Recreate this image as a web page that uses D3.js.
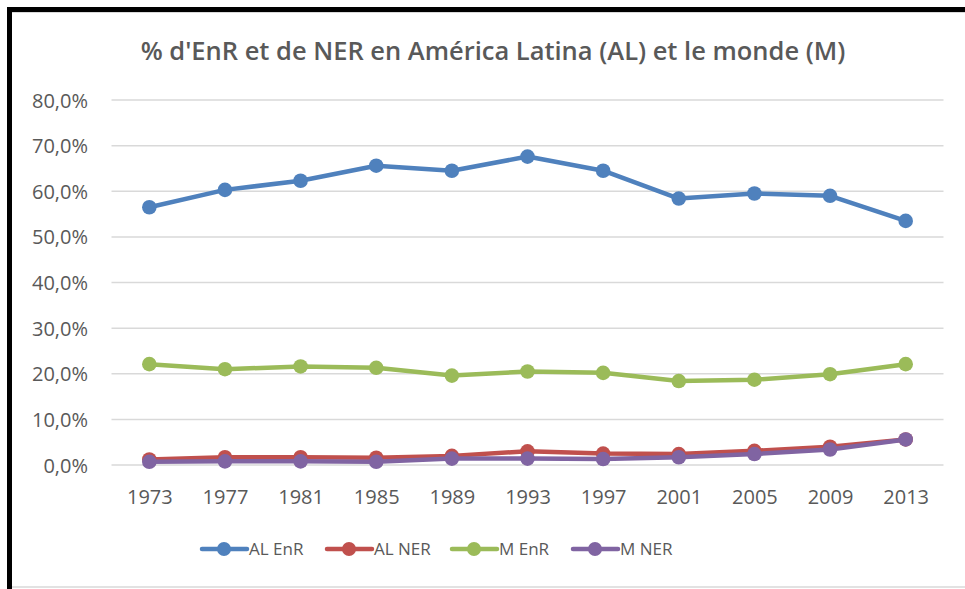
<!DOCTYPE html>
<html>
<head>
<meta charset="utf-8">
<script src="https://cdn.jsdelivr.net/npm/d3@7/dist/d3.min.js"></script>
<style>
  html, body { margin: 0; padding: 0; background: #fff; }
  svg { display: block; }
  text { font-family: "Open Sans", "DejaVu Sans", sans-serif; fill: #595959; }
</style>
</head>
<body>
<svg id="chart" width="965" height="589"></svg>
<script>
// Survey years
const years = ["1973", "1977", "1981", "1985", "1989", "1993", "1997", "2001", "2005", "2009", "2013"];

// Shares (fraction of total) per series
const alEnR = [0.565, 0.603, 0.623, 0.656, 0.645, 0.676, 0.645, 0.584, 0.595, 0.590, 0.535];
const alNER = [0.012, 0.017, 0.017, 0.016, 0.020, 0.030, 0.025, 0.024, 0.031, 0.040, 0.056];
const mEnR  = [0.221, 0.210, 0.216, 0.213, 0.196, 0.205, 0.202, 0.184, 0.187, 0.199, 0.221];
const mNER  = [0.007, 0.008, 0.008, 0.007, 0.014, 0.014, 0.013, 0.017, 0.024, 0.034, 0.056];

const seriesNames = ["AL EnR", "AL NER", "M EnR", "M NER"];
const seriesColors = ["#4f81bd", "#c0504d", "#9bbb59", "#8064a2"];
const yTicks = [0, 0.1, 0.2, 0.3, 0.4, 0.5, 0.6, 0.7, 0.8];
const titleText = "% d'EnR et de NER en América Latina (AL) et le monde (M)";

const series = [alEnR, alNER, mEnR, mNER].map((vals, i) => ({
  name: seriesNames[i], color: seriesColors[i], values: vals
}));

const svg = d3.select("#chart");
const W = 965, H = 589;

// Frame: heavy black edge on top and left, light rule inside / at bottom
svg.append("rect").attr("x", 0).attr("y", 0).attr("width", W).attr("height", H).attr("fill", "#fff");
svg.append("rect").attr("x", 7).attr("y", 7).attr("width", W - 7).attr("height", 5).attr("fill", "#000");
svg.append("rect").attr("x", 7).attr("y", 7).attr("width", 5).attr("height", H - 7).attr("fill", "#000");
svg.append("line").attr("x1", 12).attr("x2", W).attr("y1", 12.5).attr("y2", 12.5)
  .attr("stroke", "#d9d9d9").attr("stroke-width", 1);
svg.append("line").attr("x1", 12).attr("x2", W).attr("y1", 587).attr("y2", 587)
  .attr("stroke", "#d9d9d9").attr("stroke-width", 1.5);

// Scales
const x = d3.scalePoint().domain(years).range([111.5, 943.5]).padding(0.5);
const y = d3.scaleLinear().domain([0, 0.8]).range([465, 100]);

const locale = d3.formatLocale({ decimal: ",", thousands: ".", grouping: [3], currency: ["", "€"] });
const pct = locale.format(".1%");

// Horizontal gridlines
svg.append("g")
  .selectAll("line")
  .data(yTicks)
  .join("line")
  .attr("x1", 111.5).attr("x2", 943.5)
  .attr("y1", d => y(d)).attr("y2", d => y(d))
  .attr("stroke", "#d9d9d9").attr("stroke-width", 1.5);

// Y axis labels
const yAxis = d3.axisLeft(y).tickValues(yTicks).tickFormat(pct).tickSize(0).tickPadding(0);
const gy = svg.append("g").attr("transform", "translate(88,0)").call(yAxis);
gy.select(".domain").remove();
gy.selectAll("text").attr("font-size", 20).attr("font-family", null).attr("fill", "#595959").attr("dy", "0.35em");

// X axis labels
const xAxis = d3.axisBottom(x).tickSize(0).tickPadding(0);
const gx = svg.append("g").attr("transform", "translate(0,487)").call(xAxis);
gx.select(".domain").remove();
gx.selectAll("text").attr("font-size", 20).attr("font-family", null).attr("fill", "#595959").attr("dy", "0.35em").attr("y", 10);

// Series lines and markers (drawn back to front so purple sits on top)
const line = d3.line().x((d, i) => x(years[i])).y(d => y(d));
const gs = svg.append("g");
series.forEach(s => {
  const g = gs.append("g");
  g.append("path").datum(s.values)
    .attr("d", line).attr("fill", "none")
    .attr("stroke", s.color).attr("stroke-width", 4.5)
    .attr("stroke-linejoin", "round").attr("stroke-linecap", "round");
  g.selectAll("circle").data(s.values).join("circle")
    .attr("cx", (d, i) => x(years[i])).attr("cy", d => y(d))
    .attr("r", 7.3).attr("fill", s.color);
});

// Title, fitted to its box width
const title = svg.append("text")
  .attr("x", 493).attr("y", 60).attr("text-anchor", "middle")
  .attr("font-weight", 600).attr("font-size", 24).text(titleText);
const tw = title.node().getComputedTextLength();
title.attr("font-size", 24 * 705 / tw);

// Legend
const legendX = [202, 327, 452, 573];
const legendY = 549;
const lg = svg.append("g");
series.forEach((s, i) => {
  const g = lg.append("g").attr("transform", `translate(${legendX[i]},${legendY})`);
  g.append("line").attr("x1", 0).attr("x2", 45).attr("y1", 0).attr("y2", 0)
    .attr("stroke", s.color).attr("stroke-width", 4.5).attr("stroke-linecap", "round");
  g.append("circle").attr("cx", 22).attr("cy", 0).attr("r", 7).attr("fill", s.color);
  g.append("text").attr("x", 47).attr("y", 0).attr("dy", "0.35em")
    .attr("font-size", 17).text(s.name);
});
</script>
</body>
</html>
